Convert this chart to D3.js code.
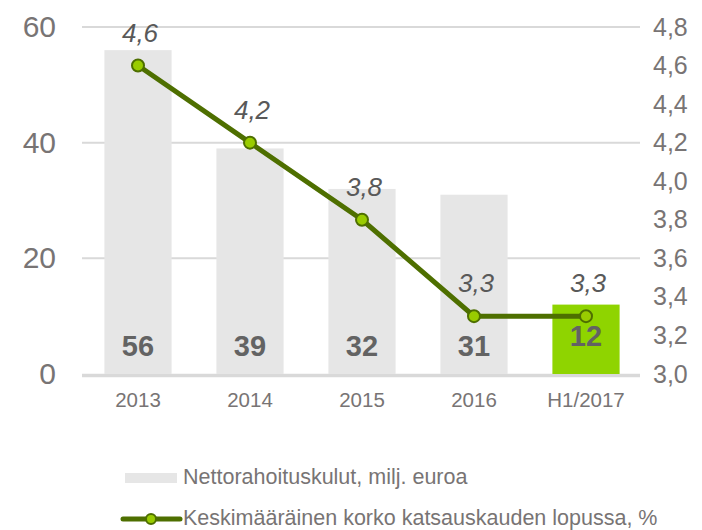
<!DOCTYPE html>
<html>
<head>
<meta charset="utf-8">
<script src="https://cdn.jsdelivr.net/npm/d3@7"></script>
<style>
  body { margin: 0; background: #fff; }
  svg { font-family: "Liberation Sans", Arial, sans-serif; }
</style>
</head>
<body>
<div id="chart"></div>
<script>
// chart data
var categories = ["2013", "2014", "2015", "2016", "H1/2017"];
var costs = [56, 39, 32, 31, 12];          // Nettorahoituskulut, milj. euroa
var rates = [4.6, 4.2, 3.8, 3.3, 3.3];     // Keskimääräinen korko, %
var leftTicks = [0, 20, 40, 60];
var rightTicks = [3.0, 3.2, 3.4, 3.6, 3.8, 4.0, 4.2, 4.4, 4.6, 4.8];
var barName = "Nettorahoituskulut, milj. euroa";
var lineName = "Keskimääräinen korko katsauskauden lopussa, %";

var width = 702, height = 530;
var margin = { top: 27, right: 62, bottom: 156, left: 82 };

var gray = "#787474", barGray = "#e6e6e6", grid = "#d9d9d9";
var lineGreen = "#4e6f00", dotGreen = "#99cc00", hlGreen = "#8fd400";

var svg = d3.select("#chart")
    .append("svg")
    .attr("width", width)
    .attr("height", height);

var x = d3.scaleBand()
    .domain(categories)
    .range([margin.left, width - margin.right + 2])
    .paddingInner(0.4)
    .paddingOuter(0.2);

var y = d3.scaleLinear().domain([0, 60]).range([height - margin.bottom, margin.top]);
var y2 = d3.scaleLinear().domain([3.0, 4.8]).range([height - margin.bottom, margin.top]);

// gridlines
svg.append("g")
    .selectAll("line")
    .data(leftTicks)
    .enter().append("line")
    .attr("x1", margin.left)
    .attr("x2", width - margin.right)
    .attr("y1", function (d) { return y(d) + (d == 0 ? 1.5 : 0); })
    .attr("y2", function (d) { return y(d) + (d == 0 ? 1.5 : 0); })
    .attr("stroke", grid)
    .attr("stroke-width", function (d) { return d == 0 ? 3.5 : 2; });

// left axis
var leftAxis = svg.append("g")
    .attr("transform", "translate(56,0)")
    .call(d3.axisLeft(y).tickValues(leftTicks).tickSize(0).tickPadding(0));
leftAxis.select(".domain").remove();
leftAxis.selectAll("text")
    .attr("fill", gray)
    .style("font-size", "30px")
    .style("font-family", "Liberation Sans, Arial, sans-serif");

// right axis
var rightAxis = svg.append("g")
    .attr("transform", "translate(653,0)")
    .call(d3.axisRight(y2).tickValues(rightTicks).tickSize(0).tickPadding(0)
        .tickFormat(function (d) { return d.toFixed(1).replace(".", ","); }));
rightAxis.select(".domain").remove();
rightAxis.selectAll("text")
    .attr("fill", gray)
    .style("font-size", "25px")
    .style("font-family", "Liberation Sans, Arial, sans-serif");

// x axis labels
var xAxis = svg.append("g")
    .attr("transform", "translate(0," + (y(0) + 12) + ")")
    .call(d3.axisBottom(x).tickSize(0).tickPadding(6));
xAxis.select(".domain").remove();
xAxis.selectAll("text")
    .attr("fill", gray)
    .style("font-size", "20.5px")
    .style("font-family", "Liberation Sans, Arial, sans-serif");

// bars
svg.append("g")
    .selectAll("rect")
    .data(costs)
    .enter().append("rect")
    .attr("x", function (d, i) { return x(categories[i]); })
    .attr("y", function (d) { return y(d); })
    .attr("width", x.bandwidth())
    .attr("height", function (d) { return y(0) - y(d); })
    .attr("fill", function (d, i) { return i == categories.length - 1 ? hlGreen : barGray; });

// bar value labels
svg.append("g")
    .selectAll("text")
    .data(costs)
    .enter().append("text")
    .attr("x", function (d, i) { return x(categories[i]) + x.bandwidth() / 2; })
    .attr("y", function (d, i) { return i == categories.length - 1 ? 346 : 356; })
    .attr("text-anchor", "middle")
    .attr("fill", "#636363")
    .style("font-size", "29px")
    .style("font-weight", "bold")
    .text(function (d) { return d; });

// line
var line = d3.line()
    .x(function (d, i) { return x(categories[i]) + x.bandwidth() / 2; })
    .y(function (d) { return y2(d); });

svg.append("path")
    .datum(rates)
    .attr("d", line)
    .attr("fill", "none")
    .attr("stroke", lineGreen)
    .attr("stroke-width", 5);

svg.append("g")
    .selectAll("circle")
    .data(rates)
    .enter().append("circle")
    .attr("cx", function (d, i) { return x(categories[i]) + x.bandwidth() / 2; })
    .attr("cy", function (d) { return y2(d); })
    .attr("r", 6)
    .attr("fill", dotGreen)
    .attr("stroke", lineGreen)
    .attr("stroke-width", 2);

// line value labels
svg.append("g")
    .selectAll("text")
    .data(rates)
    .enter().append("text")
    .attr("x", function (d, i) { return x(categories[i]) + x.bandwidth() / 2 + 2; })
    .attr("y", function (d) { return y2(d) - 24; })
    .attr("text-anchor", "middle")
    .attr("fill", "#595959")
    .style("font-size", "26px")
    .style("font-style", "italic")
    .text(function (d) { return d.toFixed(1).replace(".", ","); });

// legend
var legend = svg.append("g").attr("class", "legend");

legend.append("rect")
    .attr("x", 125)
    .attr("y", 473)
    .attr("width", 52)
    .attr("height", 10)
    .attr("fill", barGray);

legend.append("text")
    .attr("x", 183)
    .attr("y", 484)
    .attr("fill", gray)
    .style("font-size", "21.5px")
    .text(barName);

legend.append("line")
    .attr("x1", 123)
    .attr("x2", 180)
    .attr("y1", 519)
    .attr("y2", 519)
    .attr("stroke", lineGreen)
    .attr("stroke-width", 5)
    .attr("stroke-linecap", "round");

legend.append("circle")
    .attr("cx", 151)
    .attr("cy", 519)
    .attr("r", 5)
    .attr("fill", dotGreen)
    .attr("stroke", lineGreen)
    .attr("stroke-width", 2);

legend.append("text")
    .attr("x", 183)
    .attr("y", 525)
    .attr("fill", gray)
    .style("font-size", "21.5px")
    .text(lineName);
</script>
</body>
</html>
